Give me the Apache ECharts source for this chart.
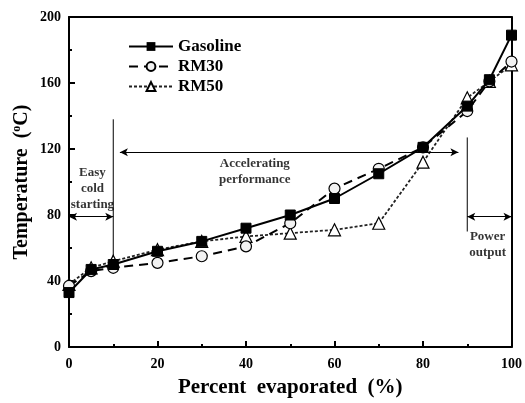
<!DOCTYPE html>
<html>
<head>
    <meta charset="utf-8">
    <script src="https://cdn.jsdelivr.net/npm/echarts@6/dist/echarts.min.js"></script>
</head>
<body style="margin:0">
<div id="main" style="width:525px;height:403px;"></div>
<script type="text/javascript">
    // percent evaporated (%)
    var percent = [0, 5, 10, 20, 30, 40, 50, 60, 70, 80, 90, 95, 100];
    // temperature (oC)
    var gasoline = [33, 47, 50, 58, 64, 72, 80, 90, 105, 121, 146, 162, 189];
    var rm30 = [37, 46, 48, 51, 55, 61, 75, 96, 108, 121, 143, 161, 173];
    var rm50 = [38, 48, 52, 59, 64, 67, 69, 71, 75, 112, 151, 161, 171];

    // annotation lines and arrows, in data units
    var dividers = [[[10, 138], [10, 50]], [[90, 127], [90, 70]]];
    var arrows = [[[0, 79], [10, 79]], [[11.5, 118], [88, 118]], [[90, 79], [100, 79]]];
    var notes = [
        {text: 'Easy\ncold\nstarting', at: [5.3, 96]},
        {text: 'Accelerating\nperformance', at: [42, 106]},
        {text: 'Power\noutput', at: [94.6, 62]}
    ];

    function pairs(ys) {
        return percent.map(function (x, i) { return [x, ys[i]]; });
    }

    var font = 'Liberation Serif';
    var myChart = echarts.init(document.getElementById('main'));

    var series = [{
        name: 'Gasoline',
        type: 'line',
        data: pairs(gasoline),
        symbol: 'rect',
        symbolSize: 10,
        lineStyle: {color: '#000', width: 2},
        itemStyle: {color: '#000', borderColor: '#000'},
        z: 4
    }, {
        name: 'RM30',
        type: 'line',
        data: pairs(rm30),
        symbol: 'circle',
        symbolSize: 11,
        lineStyle: {color: '#000', width: 2, type: [9, 6]},
        itemStyle: {color: '#f2f2f2', borderColor: '#000', borderWidth: 1.2},
        z: 3
    }, {
        name: 'RM50',
        type: 'line',
        data: pairs(rm50),
        symbol: 'triangle',
        symbolSize: 12,
        lineStyle: {color: '#222', width: 1.8, type: [3, 2]},
        itemStyle: {color: '#fff', borderColor: '#000', borderWidth: 1.2},
        z: 2
    }];

    dividers.forEach(function (seg) {
        series.push({
            type: 'line', data: seg, symbol: 'none', silent: true,
            lineStyle: {color: '#000', width: 1}, z: 1
        });
    });

    series.push({
        type: 'line', data: [], silent: true,
        markLine: {
            silent: true,
            symbol: ['arrow', 'arrow'],
            symbolSize: [6, 8],
            label: {show: false},
            lineStyle: {color: '#000', width: 1, type: 'solid'},
            data: arrows.map(function (a) {
                return [{coord: a[0]}, {coord: a[1]}];
            })
        }
    });

    series.push({
        type: 'scatter', silent: true, symbolSize: 0,
        data: notes.map(function (n) {
            return {value: n.at, label: {formatter: n.text}};
        }),
        label: {
            show: true, position: 'inside', color: '#000',
            fontFamily: font, fontWeight: 'bold', fontSize: 13,
            lineHeight: 16, align: 'center'
        }
    });

    var tickLabel = {fontFamily: font, fontWeight: 'bold', fontSize: 14, color: '#000'};
    var titleStyle = {fontFamily: font, fontWeight: 'bold', fontSize: 20, color: '#000'};
    var line = {show: true, onZero: false, lineStyle: {color: '#000', width: 2}};
    var tick = {show: true, inside: true, length: 6, lineStyle: {color: '#000', width: 2}};
    var minor = {show: true, splitNumber: 2, length: 3, lineStyle: {color: '#000', width: 2}};

    myChart.setOption({
        animation: false,
        backgroundColor: '#fff',
        grid: {left: 69, right: 6, top: 17, bottom: 52},
        legend: {
            data: ['Gasoline', 'RM30', 'RM50'],
            orient: 'vertical',
            left: 123, top: 33,
            itemWidth: 44, itemHeight: 11, itemGap: 3,
            textStyle: {fontFamily: font, fontWeight: 'bold', fontSize: 17, color: '#000'}
        },
        xAxis: [{
            type: 'value', min: 0, max: 100, interval: 20,
            name: 'Percent  evaporated  (%)',
            nameLocation: 'middle', nameGap: 30,
            nameTextStyle: Object.assign({}, titleStyle, {fontSize: 21}),
            axisLine: line, axisTick: tick, minorTick: minor,
            splitLine: {show: false},
            axisLabel: Object.assign({margin: 10}, tickLabel)
        }, {
            type: 'value', min: 0, max: 100, position: 'top',
            axisLine: line, axisTick: {show: false}, axisLabel: {show: false}, splitLine: {show: false}
        }],
        yAxis: [{
            type: 'value', min: 0, max: 200, interval: 40,
            name: 'Temperature  ({sup|o}C)',
            nameLocation: 'middle', nameGap: 37, nameMoveOverlap: false,
            nameTextStyle: Object.assign({}, titleStyle, {
                rich: {sup: {fontFamily: font, fontSize: 12, fontWeight: 'bold', color: '#000', padding: [0, 0, 9, 0]}}
            }),
            axisLine: line, axisTick: tick, minorTick: minor,
            splitLine: {show: false},
            axisLabel: Object.assign({margin: 8}, tickLabel)
        }, {
            type: 'value', min: 0, max: 200, position: 'right',
            axisLine: line, axisTick: {show: false}, axisLabel: {show: false}, splitLine: {show: false}
        }],
        series: series
    });
</script>
</body>
</html>
